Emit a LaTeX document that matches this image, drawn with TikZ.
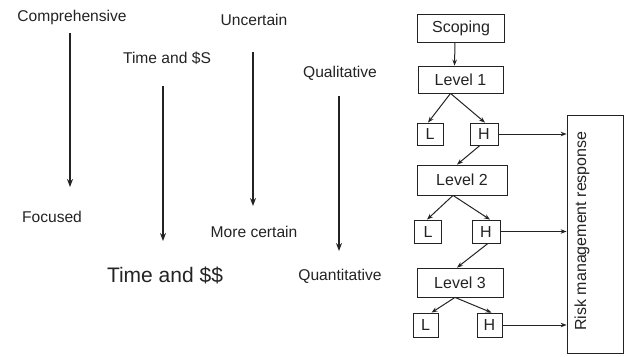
\documentclass[tikz,border=0pt]{standalone}
\usepackage{fontspec}
\setmainfont{Liberation Sans}
\usepackage{xcolor}
\usepackage{tikz}
\usetikzlibrary{arrows.meta, positioning, calc}
\definecolor{inkgray}{RGB}{35, 35, 35}
\tikzstyle{lbl} = [inner sep=0pt, text=inkgray, font=\fontsize{15.6}{18}\selectfont]
\tikzstyle{biglbl} = [inner sep=0pt, text=inkgray, font=\fontsize{21}{24}\selectfont]
\tikzstyle{stagebox} = [draw=inkgray, line width=0.8pt, inner sep=0pt, text=inkgray, font=\fontsize{16}{18}\selectfont]
\tikzstyle{downarrow} = [-{Stealth[length=8pt, width=6pt]}, line width=1.6pt, inkgray]
\tikzstyle{arrow} = [-{Stealth[length=6pt, width=4.5pt]}, line width=1pt, inkgray]

\begin{document}
\begin{tikzpicture}[x=1pt, y=-1pt]
    \useasboundingbox (0,0) rectangle (628,356);

    % Comprehensive -> Focused
    \node[lbl] (comp) at (72,17) {Comprehensive};
    \node[lbl] (focus) at (52,217) {Focused};
    \coordinate (compS) at (70,33);
    \coordinate (compE) at (70,187);
    \draw[downarrow] (compS) -- (compE);

    % Time and $S -> Time and $$
    \node[lbl] (timeS) at (167,58) {Time and \$S};
    \node[biglbl] (timeD) at (165,275) {Time and \$\$};
    \coordinate (timeA) at (163,86);
    \coordinate (timeB) at (163,241);
    \draw[downarrow] (timeA) -- (timeB);

    % Uncertain -> More certain
    \node[lbl] (unc) at (254,20) {Uncertain};
    \node[lbl] (cert) at (254,232) {More certain};
    \coordinate (uncA) at (253,52);
    \coordinate (uncB) at (253,206);
    \draw[downarrow] (uncA) -- (uncB);

    % Qualitative -> Quantitative
    \node[lbl] (qual) at (340,73) {Qualitative};
    \node[lbl] (quant) at (340,276) {Quantitative};
    \coordinate (qualA) at (339,96);
    \coordinate (qualB) at (339,251);
    \draw[downarrow] (qualA) -- (qualB);

    % Levels
    \node[stagebox, minimum width=87, minimum height=28] (scop) at (461,28) {Scoping};
    \node[stagebox, minimum width=85, minimum height=27] (lev1) at (460.5,79.5) {Level 1};
    \node[stagebox, minimum width=26, minimum height=22] (l1) at (430,134) {L};
    \node[stagebox, minimum width=28, minimum height=22] (h1) at (484,134) {H};
    \node[stagebox, minimum width=90, minimum height=30] (lev2) at (462,180) {Level 2};
    \node[stagebox, minimum width=27, minimum height=23] (l2) at (428,231.5) {L};
    \node[stagebox, minimum width=28, minimum height=23] (h2) at (486,231.5) {H};
    \node[stagebox, minimum width=86, minimum height=29] (lev3) at (460,282.5) {Level 3};
    \node[stagebox, minimum width=25, minimum height=24] (l3) at (425.5,325) {L};
    \node[stagebox, minimum width=25, minimum height=24] (h3) at (489.5,325) {H};

    % Risk management response
    \node[stagebox, minimum width=56, minimum height=238] (risk) at (595,234) {};
    \node[stagebox, draw=none, rotate=90] (risktxt) at (582,231) {Risk management response};

    \draw[arrow] ([xshift=-6pt]scop.south) -- ([xshift=-6pt]lev1.north);
    \draw[arrow] ([xshift=-10pt]lev1.south) -- ([xshift=-2pt]l1.north);
    \draw[arrow] ([xshift=-10pt]lev1.south) -- ([xshift=1pt]h1.north);
    \draw[arrow] ([xshift=-4pt]h1.south) -- ([xshift=-5pt]lev2.north);
    \draw[arrow] ([xshift=-9pt]lev2.south) -- ([xshift=-1pt]l2.north);
    \draw[arrow] ([xshift=-9pt]lev2.south) -- ([xshift=4pt]h2.north);
    \draw[arrow] ([xshift=2pt]h2.south) -- ([xshift=-3pt]lev3.north);
    \draw[arrow] ([xshift=-5pt]lev3.south) -- ([xshift=6pt]l3.north);
    \draw[arrow] ([xshift=-5pt]lev3.south) -- ([xshift=2pt]h3.north);

    \draw[arrow] (h1.east) -- (h1.east -| risk.west);
    \draw[arrow] (h2.east) -- (h2.east -| risk.west);
    \draw[arrow] (h3.east) -- (h3.east -| risk.west);
\end{tikzpicture}
\end{document}
